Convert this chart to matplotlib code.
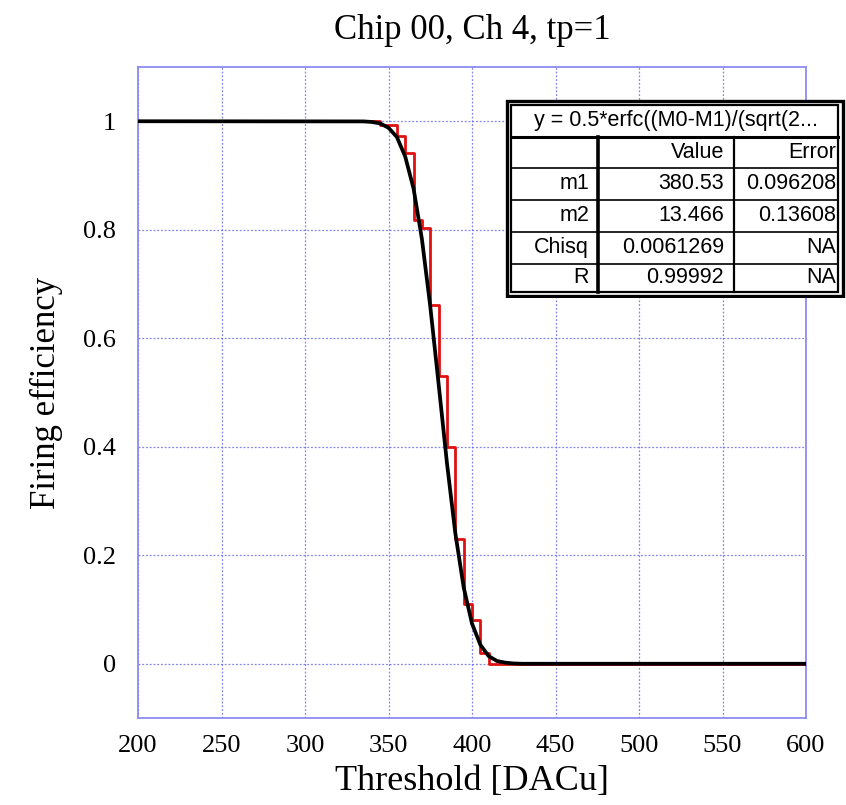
import numpy as np
import matplotlib.pyplot as plt
from matplotlib.patches import Rectangle

# ── data ──
thr = [200, 345, 350, 355, 360, 365, 370, 375, 380, 385, 390, 395, 400, 405, 410, 600]
eff = [1.0, 0.993, 0.993, 0.972, 0.941, 0.818, 0.803, 0.661, 0.530, 0.400,
       0.230, 0.110, 0.081, 0.020, 0.0, 0.0]

fit_x = [200, 335, 340, 345, 350, 355, 360, 365, 370, 375, 380, 385, 390, 395,
         400, 405, 410, 415, 420, 425, 430, 600]
fit_y = [1.0, 0.9997, 0.9987, 0.996, 0.988, 0.971, 0.935, 0.876, 0.783, 0.659,
         0.516, 0.370, 0.241, 0.141, 0.074, 0.035, 0.014, 0.005, 0.002, 0.0005,
         0.0, 0.0]

x_ticks = [200, 250, 300, 350, 400, 450, 500, 550, 600]
y_ticks = [0, 0.2, 0.4, 0.6, 0.8, 1]
y_tick_labels = ['0', '0.2', '0.4', '0.6', '0.8', '1']

fit_title = "y = 0.5*erfc((M0-M1)/(sqrt(2..."
col_names = ["", "Value", "Error"]
row_names = ["m1", "m2", "Chisq", "R"]
row_values = ["380.53", "13.466", "0.0061269", "0.99992"]
row_errors = ["0.096208", "0.13608", "NA", "NA"]

W, H = 846, 805
fig = plt.figure(figsize=(W / 100, H / 100), dpi=100)
ax = fig.add_axes([138 / W, 1 - 718 / H, (806 - 138) / W, (718 - 67) / H])

serif = ['Liberation Serif', 'DejaVu Serif']

ax.step(thr, eff, where='post', color='#e01010', linewidth=2.0, zorder=3)
ax.plot(fit_x, fit_y, color='black', linewidth=2.7, zorder=4)

ax.set_xlim(200, 600)
ax.set_ylim(-0.1, 1.1)
ax.set_xticks(x_ticks)
ax.set_yticks(y_ticks)
ax.set_yticklabels(y_tick_labels)
ax.tick_params(length=0, labelsize=19)
ax.tick_params(axis='x', pad=12)
ax.tick_params(axis='y', pad=16)
for lab in ax.get_xticklabels() + ax.get_yticklabels():
    lab.set_family(serif)

ax.grid(True, color='#5a5af0', linestyle=(0, (1.5, 1.5)), linewidth=0.9, alpha=0.75)
ax.set_axisbelow(True)
for sp in ax.spines.values():
    sp.set_color('#8c8cf0')
    sp.set_linewidth(1.3)

ax.set_title("Chip 00, Ch 4, tp=1", family=serif, fontsize=25, pad=20)
ax.set_xlabel("Threshold [DACu]", family=serif, fontsize=26, labelpad=6)
ax.set_ylabel("Firing efficiency", family=serif, fontsize=25, labelpad=14)

# ── fit result box ──
tx0, ty0, tx1, ty1 = 505, 99, 846, 298
tab = fig.add_axes([tx0 / W, 1 - ty1 / H, (tx1 - tx0) / W, (ty1 - ty0) / H])
tab.set_xlim(tx0, tx1)
tab.set_ylim(ty1, ty0)
tab.axis('off')
tab.add_patch(Rectangle((tx0 + 2, ty0 + 2), 843 - tx0 - 2, 296 - ty0 - 2,
                        facecolor='white', edgecolor='black', linewidth=2.4))
tab.add_patch(Rectangle((511, 105), 838 - 511, 292 - 105,
                        facecolor='none', edgecolor='black', linewidth=1.6))

row_lines = [137, 168, 200, 232, 264]
for i, yl in enumerate(row_lines):
    tab.plot([511, 838], [yl, yl], color='black',
             linewidth=2.2 if i == 0 else 1.2)
tab.plot([598, 598], [137, 292], color='black', linewidth=2.6)
tab.plot([734, 734], [137, 292], color='black', linewidth=1.6)

sans = ['Liberation Sans', 'DejaVu Sans']
fs = 15.5
row_mid = [184, 216, 248, 278]
tab.text(676, 121, fit_title, ha='center', va='center', family=sans, fontsize=fs)
tab.text(724, 153, col_names[1], ha='right', va='center', family=sans, fontsize=fs)
tab.text(836, 153, col_names[2], ha='right', va='center', family=sans, fontsize=fs)
for i in range(len(row_names)):
    yc = row_mid[i]
    tab.text(589, yc, row_names[i], ha='right', va='center', family=sans, fontsize=fs)
    tab.text(724, yc, row_values[i], ha='right', va='center', family=sans, fontsize=fs)
    tab.text(836, yc, row_errors[i], ha='right', va='center', family=sans, fontsize=fs)

fig.savefig("out.png", dpi=100)
